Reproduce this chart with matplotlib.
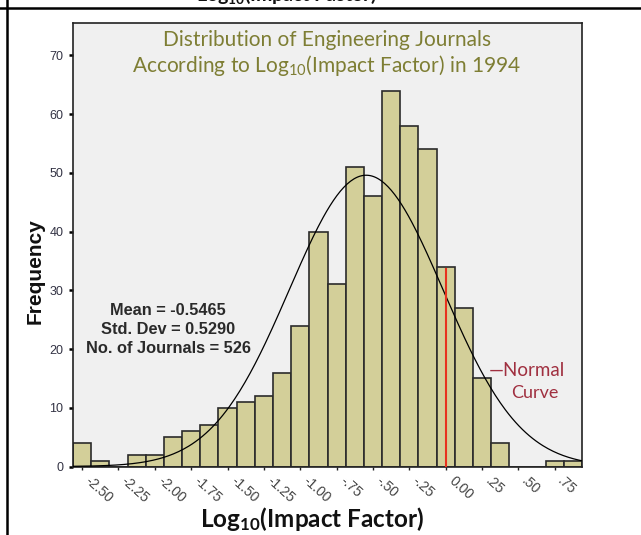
import numpy as np
import matplotlib
matplotlib.use('Agg')
import matplotlib.pyplot as plt
import matplotlib.transforms as mtransforms
from matplotlib.lines import Line2D

plt.rcParams['mathtext.default'] = 'regular'

# histogram of log10(impact factor), bin width 0.125
bin_centers = [-2.5, -2.375, -2.25, -2.125, -2.0, -1.875, -1.75, -1.625,
               -1.5, -1.375, -1.25, -1.125, -1.0, -0.875, -0.75, -0.625,
               -0.5, -0.375, -0.25, -0.125, 0.0, 0.125, 0.25, 0.375,
               0.5, 0.625, 0.75, 0.875]
counts = [4, 1, 0, 2, 2, 5, 6, 7, 10, 11, 12, 16, 24, 40, 31, 51,
          46, 64, 58, 54, 34, 27, 15, 4, 0, 0, 1, 1]
bin_width = 0.125

mean = -0.5465
std_dev = 0.5290
n_journals = 526

xtick_vals = [-2.5, -2.25, -2.0, -1.75, -1.5, -1.25, -1.0, -0.75, -0.5,
              -0.25, 0.0, 0.25, 0.5, 0.75]
xtick_labels = ['-2.50', '-2.25', '-2.00', '-1.75', '-1.50', '-1.25', '-1.00',
                '-.75', '-.50', '-.25', '0.00', '.25', '.50', '.75']
yticks = [0, 10, 20, 30, 40, 50, 60, 70]

W, H = 641, 535
fig = plt.figure(figsize=(W / 100, H / 100), dpi=100)
ax = fig.add_axes([73 / W, 1 - 466.5 / H, (582 - 73) / W, (466.5 - 23) / H])
ax.set_facecolor('#f0f0f0')

ax.bar(bin_centers, counts, width=bin_width, color='#d3cf99',
       edgecolor='#2b2b2b', linewidth=1.2, zorder=2)

# normal curve
xs = np.linspace(bin_centers[0] - bin_width / 2, bin_centers[-1] + bin_width / 2, 300)
ys = n_journals * bin_width / (std_dev * np.sqrt(2 * np.pi)) * np.exp(-0.5 * ((xs - mean) / std_dev) ** 2)
ax.plot(xs, ys, color='black', linewidth=0.9, zorder=3)

# red marker line at zero
ax.plot([0.0, 0.0], [0, 33.6], color='#e8321e', linewidth=1.5, zorder=4)

ax.set_xlim(bin_centers[0] - bin_width / 2, bin_centers[-1] + bin_width / 2)
ax.set_ylim(0, 75.5)

ax.set_yticks(yticks)
ax.set_yticklabels([str(v) for v in yticks], fontsize=9, color='#333344',
                   family='Liberation Sans')
ax.tick_params(axis='y', direction='out', length=3, width=1.8, pad=4, color='black')

ax.set_xticks(xtick_vals)
ax.set_xticklabels(xtick_labels, fontsize=10, color='#444444', family='Liberation Sans',
                   rotation=-42, ha='left', va='top', rotation_mode='anchor')
ax.tick_params(axis='x', direction='out', length=2, width=1, pad=3, color='#222222')
shift = mtransforms.ScaledTranslation(7 / 72, 0, fig.dpi_scale_trans)
for lbl in ax.get_xticklabels():
    lbl.set_transform(lbl.get_transform() + shift)

for s in ax.spines.values():
    s.set_linewidth(1.2)
    s.set_color('#222222')

fig.text(327 / W, 1 - 54 / H,
         'Distribution of Engineering Journals\nAccording to Log$_{10}$(Impact Factor) in 1994',
         family='Lato', fontsize=15, color='#7e7e34', ha='center', va='center',
         linespacing=1.2)

fig.text(168 / W, 1 - 329.5 / H, 'Mean = -0.5465\nStd. Dev = 0.5290\nNo. of Journals = 526',
         fontsize=11.8, family='Liberation Sans', fontweight='bold', color='#2a2a2a',
         ha='center', va='center', linespacing=1.3)

fig.text(527 / W, 1 - 370 / H, '\u2014Normal', family='Lato', fontsize=13.5,
         color='#a03040', ha='center', va='center')
fig.text(535 / W, 1 - 393 / H, 'Curve', family='Lato', fontsize=13,
         color='#a03040', ha='center', va='center')

fig.text(35 / W, 1 - 271 / H, 'Frequency', rotation=90, family='Liberation Sans',
         fontweight='bold', fontsize=15, color='#111111', ha='center', va='center')
fig.text(312 / W, 1 - 519 / H, 'Log$_{10}$(Impact Factor)', family='Lato',
         fontweight='bold', fontsize=17.5, color='#111111', ha='center', va='center')

# page border and clipped heading from the source document
fig.text(286 / W, 1 - 1 / H, 'Log$_{10}$(Impact Factor)', family='Lato',
         fontweight='bold', fontsize=14, color='#111111', ha='center', va='baseline')
fig.add_artist(Line2D([0, 1], [1 - 7.5 / H, 1 - 7.5 / H], color='black', linewidth=1.8))
fig.add_artist(Line2D([6.5 / W, 6.5 / W], [0, 1], color='black', linewidth=1.8))

fig.savefig('out.png', dpi=100)
